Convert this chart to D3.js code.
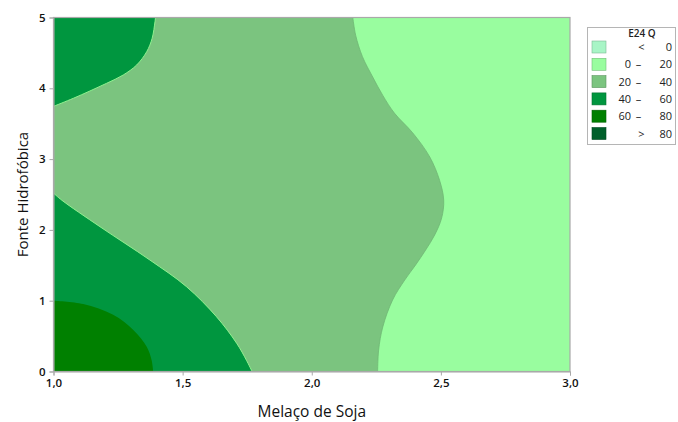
<!DOCTYPE html>
<html>
<head>
<meta charset="utf-8">
<script src="https://cdn.jsdelivr.net/npm/d3@7/dist/d3.min.js"></script>
<style>
  html, body { margin: 0; padding: 0; background: #fff; }
  svg { display: block; font-family: "Open Sans", "Noto Sans", sans-serif; }
</style>
</head>
<body>
<svg id="chart" width="678" height="422"></svg>
<script>
// Contour levels and their fill colours
const levelLabels = [["<", "0"], ["0", "20"], ["20", "40"], ["40", "60"], ["60", "80"], [">", "80"]];
const levelColors = ["#a8f5c6", "#99fd9f", "#7bc47f", "#00963f", "#008000", "#005f2a"];

// Axis ticks
const xTicks = [1.0, 1.5, 2.0, 2.5, 3.0];
const yTicks = [0, 1, 2, 3, 4, 5];

// Contour boundaries [Melaço de Soja, Fonte Hidrofóbica]
// 20 contour (between 0–20 and 20–40), from top edge down to bottom edge
const contour20 = [
  [2.159, 5.0], [2.170, 4.75], [2.196, 4.45], [2.236, 4.16], [2.275, 3.90],
  [2.320, 3.65], [2.391, 3.37], [2.457, 3.03], [2.495, 2.70], [2.511, 2.42],
  [2.503, 2.168], [2.476, 1.928], [2.441, 1.716], [2.402, 1.504], [2.360, 1.292],
  [2.313, 1.010], [2.275, 0.629], [2.259, 0.304], [2.255, 0.0]
];
// 40 contour, lower-left lobe
const contour40Low = [
  [1.0, 2.52], [1.032, 2.42], [1.18, 2.045], [1.373, 1.575], [1.515, 1.198],
  [1.631, 0.774], [1.709, 0.40], [1.747, 0.16], [1.769, 0.0]
];
// 40 contour, upper-left lobe
const contour40High = [
  [1.0, 3.745], [1.077, 3.859], [1.141, 3.962], [1.206, 4.071], [1.270, 4.188],
  [1.322, 4.329], [1.361, 4.517], [1.382, 4.706], [1.393, 4.941], [1.395, 5.0]
];
// 60 contour, lower-left corner
const contour60 = [
  [1.0, 1.0], [1.115, 0.953], [1.231, 0.80], [1.309, 0.586], [1.361, 0.35],
  [1.38, 0.16], [1.386, 0.0]
];

const svg = d3.select("#chart");
const margin = { left: 53.5, right: 570, top: 17.5, bottom: 371.5 };

const x = d3.scaleLinear().domain([1, 3]).range([margin.left, margin.right]);
const y = d3.scaleLinear().domain([0, 5]).range([margin.bottom, margin.top]);

const curve = d3.line().x(d => x(d[0])).y(d => y(d[1])).curve(d3.curveCatmullRom.alpha(0.5));

// Closed region: contour curve followed by straight runs along the frame
function region(points, corners) {
  let p = curve(points);
  corners.forEach(c => { p += "L" + x(c[0]) + "," + y(c[1]); });
  return p + "Z";
}

const plot = svg.append("g");
plot.append("defs").append("clipPath").attr("id", "clip")
  .append("rect")
  .attr("x", x(1)).attr("y", y(5))
  .attr("width", x(3) - x(1)).attr("height", y(0) - y(5));

const fills = plot.append("g").attr("clip-path", "url(#clip)");

// 20–40 band fills the whole plot underneath
fills.append("rect")
  .attr("x", x(1)).attr("y", y(5))
  .attr("width", x(3) - x(1)).attr("height", y(0) - y(5))
  .attr("fill", levelColors[2]);

fills.append("path").attr("d", region(contour20, [[3, 0], [3, 5]])).attr("fill", levelColors[1]);
fills.append("path").attr("d", region(contour40Low, [[1, 0]])).attr("fill", levelColors[3]);
fills.append("path").attr("d", region(contour40High, [[1, 5]])).attr("fill", levelColors[3]);
fills.append("path").attr("d", region(contour60, [[1, 0]])).attr("fill", levelColors[4]);

// Contour lines
fills.append("path").attr("d", curve(contour20)).attr("fill", "none")
  .attr("stroke", "#6fb774").attr("stroke-width", 0.8);
[contour40Low, contour40High].forEach(c => {
  fills.append("path").attr("d", curve(c)).attr("fill", "none")
    .attr("stroke", "#8ff08f").attr("stroke-width", 1);
});

// Frame
plot.append("rect")
  .attr("x", x(1)).attr("y", y(5))
  .attr("width", x(3) - x(1)).attr("height", y(0) - y(5))
  .attr("fill", "none").attr("stroke", "#a9a9a9").attr("stroke-width", 1.2);

// Axes
const fmt = d => d3.format(".1f")(d).replace(".", ",");
const xAxis = svg.append("g").attr("transform", `translate(0,${y(0)})`)
  .call(d3.axisBottom(x).tickValues(xTicks).tickFormat(fmt).tickSize(4).tickPadding(3));
const yAxis = svg.append("g").attr("transform", `translate(${x(1)},0)`)
  .call(d3.axisLeft(y).tickValues(yTicks).tickFormat(d3.format("d")).tickSize(4).tickPadding(4));
[xAxis, yAxis].forEach(a => {
  a.select(".domain").attr("stroke", "#a9a9a9");
  a.selectAll(".tick line").attr("stroke", "#a9a9a9");
  a.selectAll(".tick text").attr("fill", "#111").attr("font-size", 11.5).attr("font-weight", 600)
    .attr("font-family", "'Open Sans', 'Noto Sans', sans-serif");
});

// Axis titles
svg.append("text")
  .attr("x", (x(1) + x(3)) / 2).attr("y", 417)
  .attr("text-anchor", "middle").attr("font-size", 15.5).attr("fill", "#111")
  .text("Melaço de Soja");
svg.append("text")
  .attr("transform", `translate(28,${(y(0) + y(5)) / 2}) rotate(-90)`)
  .attr("text-anchor", "middle").attr("font-size", 15).attr("fill", "#111")
  .text("Fonte Hidrofóbica");

// Legend
const legend = svg.append("g");
legend.append("rect")
  .attr("x", 587.5).attr("y", 27.5).attr("width", 88).attr("height", 117)
  .attr("fill", "#fff").attr("stroke", "#b5b5b5");
legend.append("text")
  .attr("x", 642).attr("y", 37).attr("text-anchor", "middle").attr("font-weight", 600)
  .attr("font-size", 10).attr("fill", "#222").text("E24 Q");

const rowY = d3.scaleLinear().domain([0, 5]).range([47, 133.5]);
levelLabels.forEach((lab, i) => {
  const cy = rowY(i);
  legend.append("rect")
    .attr("x", 592).attr("y", cy - 6).attr("width", 14).attr("height", 12)
    .attr("fill", levelColors[i]).attr("stroke", d3.color(levelColors[i]).darker(0.8))
    .attr("stroke-width", 0.6);
  const row = legend.append("g").attr("font-size", 11).attr("fill", "#222");
  if (lab[0] === "<" || lab[0] === ">") {
    row.append("text").attr("x", 641.5).attr("y", cy + 4).attr("text-anchor", "middle").text(lab[0]);
  } else {
    row.append("text").attr("x", 631).attr("y", cy + 4).attr("text-anchor", "end").text(lab[0]);
    row.append("text").attr("x", 638.5).attr("y", cy + 4).attr("text-anchor", "middle").text("–");
  }
  row.append("text").attr("x", 672).attr("y", cy + 4).attr("text-anchor", "end").text(lab[1]);
});
</script>
</body>
</html>
